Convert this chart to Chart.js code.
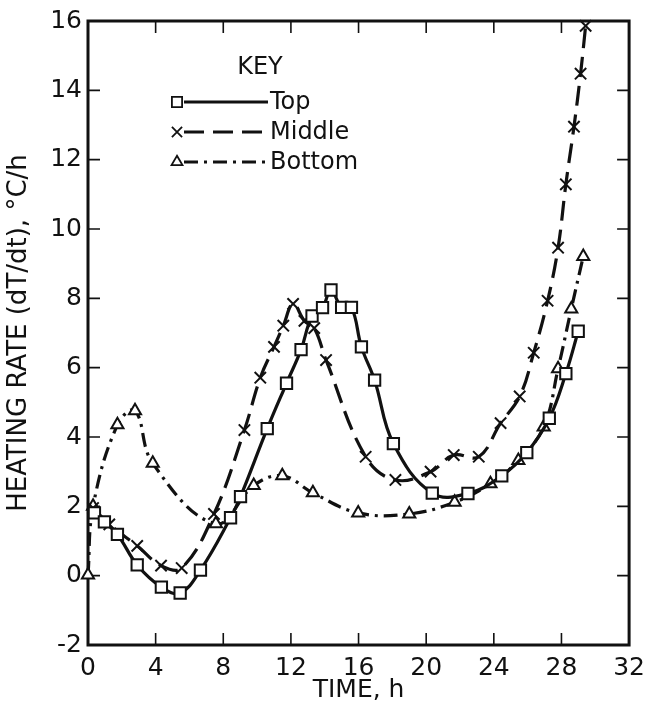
<!DOCTYPE html>
<html>
<head>
<meta charset="utf-8">
<script src="https://cdn.jsdelivr.net/npm/chart.js"></script>
<style>
  body { margin: 0; background: #fff; }
  canvas { display: block; }
</style>
</head>
<body>
<canvas id="heating" width="653" height="713"></canvas>
<script>
//DATA
const xTicks = [0, 4, 8, 12, 16, 20, 24, 28, 32];
const yTicks = [-2, 0, 2, 4, 6, 8, 10, 12, 14, 16];

const seriesNames = ['Top', 'Middle', 'Bottom'];

const timeTop = [0.38, 0.97, 1.74, 2.91, 4.34, 5.45, 6.65, 8.43, 9.02, 10.6, 11.74, 12.6, 13.25, 13.87, 14.37, 15.0, 15.58, 16.17, 16.95, 18.06, 20.36, 22.47, 24.47, 25.95, 27.28, 28.26, 28.99];
const rateTop = [1.81, 1.55, 1.19, 0.31, -0.33, -0.5, 0.16, 1.67, 2.28, 4.24, 5.55, 6.52, 7.49, 7.73, 8.24, 7.74, 7.74, 6.6, 5.64, 3.81, 2.38, 2.37, 2.88, 3.55, 4.54, 5.83, 7.05];

const timeMid = [0.3, 1.26, 2.91, 4.32, 5.54, 7.45, 9.25, 10.19, 11.0, 11.55, 12.13, 12.8, 13.38, 14.08, 16.42, 18.18, 20.26, 21.63, 23.11, 24.4, 25.53, 26.36, 27.18, 27.8, 28.26, 28.74, 29.13, 29.43];
const rateMid = [1.95, 1.48, 0.86, 0.29, 0.22, 1.78, 4.2, 5.71, 6.6, 7.21, 7.84, 7.35, 7.14, 6.22, 3.43, 2.76, 3.0, 3.48, 3.43, 4.4, 5.17, 6.43, 7.93, 9.46, 11.29, 12.95, 14.48, 15.86];

const timeBot = [0, 0.3, 1.74, 2.78, 3.83, 7.56, 9.8, 11.49, 13.3, 15.98, 19.0, 21.68, 23.8, 25.45, 26.95, 27.8, 28.58, 29.29];
const rateBot = [0.02, 2.0, 4.35, 4.76, 3.24, 1.5, 2.6, 2.88, 2.39, 1.81, 1.78, 2.12, 2.65, 3.32, 4.29, 5.97, 7.69, 9.21];

//STYLE
const FONT = 'DejaVu Sans';
const INK = '#111';

function toPoints(xs, ys){
    return xs.map((x, i) => ({x: x, y: ys[i]}));
}

function makeSeries(label, xs, ys, style, radius, dash){
    return {
        label: label,
        data: toPoints(xs, ys),
        borderColor: INK,
        backgroundColor: '#fff',
        borderWidth: 3.2,
        borderDash: dash,
        pointStyle: style,
        pointRadius: radius,
        pointBorderWidth: 2,
        pointBorderColor: INK,
        pointBackgroundColor: '#fff',
        tension: 0.4,
        clip: false,
    };
}

// box round the plot, with short ticks pointing inwards on all four sides
const frameTicks = {
    id: 'frameTicks',
    beforeDatasetsDraw(chart){
        const ctx = chart.ctx;
        const a = chart.chartArea;
        const x = chart.scales.x;
        const y = chart.scales.y;
        const len = 12;
        ctx.save();
        ctx.strokeStyle = INK;
        ctx.lineWidth = 3;
        ctx.strokeRect(a.left, a.top, a.right - a.left, a.bottom - a.top);
        ctx.lineWidth = 1.6;
        ctx.beginPath();
        xTicks.slice(1, -1).forEach(v => {
            const px = x.getPixelForValue(v);
            ctx.moveTo(px, a.bottom); ctx.lineTo(px, a.bottom - len);
            ctx.moveTo(px, a.top);    ctx.lineTo(px, a.top + len);
        });
        yTicks.slice(1, -1).forEach(v => {
            const py = y.getPixelForValue(v);
            ctx.moveTo(a.left, py);  ctx.lineTo(a.left + len, py);
            ctx.moveTo(a.right, py); ctx.lineTo(a.right - len, py);
        });
        ctx.stroke();
        ctx.restore();
    }
};

// the "KEY" box in the upper left
const keyLegend = {
    id: 'keyLegend',
    afterDraw(chart){
        const ctx = chart.ctx;
        const rows = [102, 132, 162];
        ctx.save();
        ctx.fillStyle = INK;
        ctx.font = '24px ' + FONT;
        ctx.textAlign = 'center';
        ctx.textBaseline = 'middle';
        ctx.fillText('KEY', 260, 68);
        chart.data.datasets.forEach((ds, i) => {
            const yy = rows[i];
            ctx.strokeStyle = INK;
            ctx.lineWidth = 3;
            ctx.setLineDash(ds.borderDash || []);
            ctx.beginPath();
            ctx.moveTo(184, yy);
            ctx.lineTo(268, yy);
            ctx.stroke();
            ctx.setLineDash([]);
            ctx.fillStyle = '#fff';
            ctx.lineWidth = 1.8;
            Chart.helpers.drawPoint(ctx, {pointStyle: ds.pointStyle, radius: ds.pointRadius * 0.9, rotation: 0, borderWidth: 1.8}, 177, yy);
            ctx.fillStyle = INK;
            ctx.textAlign = 'left';
            ctx.fillText(ds.label, 270, yy + 1);
        });
        ctx.restore();
    }
};

function HeatingChart(){
    const data = {
        datasets: [
            makeSeries(seriesNames[0], timeTop, rateTop, 'rect', 8, []),
            makeSeries(seriesNames[1], timeMid, rateMid, 'crossRot', 8, [20, 9]),
            makeSeries(seriesNames[2], timeBot, rateBot, 'triangle', 7, [14, 6, 3, 6]),
        ]
    };
    const config = {
        type: 'line',
        data: data,
        options: {
            responsive: false,
            animation: false,
            layout: {padding: {top: 15, right: 18, left: 0, bottom: 0}},
            plugins: {
                legend: {display: false},
                tooltip: {enabled: false},
            },
            scales: {
                x: {
                    type: 'linear',
                    min: 0,
                    max: 32,
                    afterBuildTicks: s => { s.ticks = xTicks.map(v => ({value: v})); },
                    afterFit: s => { s.height = 68; },
                    grid: {display: false, drawTicks: false},
                    border: {display: false},
                    ticks: {color: INK, padding: 8, font: {family: FONT, size: 25}, maxRotation: 0},
                    title: {display: true, text: 'TIME, h', color: INK, padding: {top: 0, bottom: 8}, font: {family: FONT, size: 25}},
                },
                y: {
                    type: 'linear',
                    min: -2,
                    max: 16,
                    afterBuildTicks: s => { s.ticks = yTicks.map(v => ({value: v})); },
                    afterFit: s => { s.width = 88; },
                    grid: {display: false, drawTicks: false},
                    border: {display: false},
                    ticks: {color: INK, padding: 6, font: {family: FONT, size: 25}},
                    title: {display: true, text: 'HEATING RATE (dT/dt), °C/h', color: INK, padding: {top: 4, bottom: 0}, font: {family: FONT, size: 26}},
                }
            }
        },
        plugins: [frameTicks, keyLegend],
    };
    new Chart(document.querySelector('#heating'), config);
}

HeatingChart();
</script>
</body>
</html>
